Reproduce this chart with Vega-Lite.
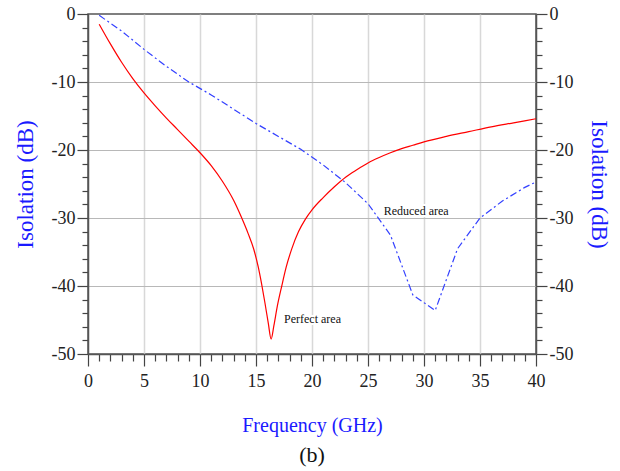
{
  "$schema": "https://vega.github.io/schema/vega-lite/v6.json",
  "width": 448,
  "height": 340,
  "autosize": "none",
  "padding": {"left": 88, "top": 14, "right": 84, "bottom": 117},
  "background": "white",
  "config": {
    "font": "Liberation Serif",
    "view": {"stroke": "#555555", "strokeWidth": 1.5},
    "axis": {
      "labelFont": "Liberation Serif",
      "labelFontSize": 18,
      "labelColor": "#222222",
      "titleFont": "Liberation Serif",
      "titleFontWeight": "normal",
      "titleColor": "#1a1aff",
      "domainColor": "#555555",
      "domainWidth": 1.5,
      "tickColor": "#444444",
      "tickWidth": 1.2
    }
  },
  "title": {
    "text": "(b)",
    "orient": "bottom",
    "font": "Liberation Serif",
    "fontSize": 22,
    "fontWeight": "normal",
    "color": "#111111",
    "offset": 10
  },
  "datasets": {
    "red": [
      {"f": 1, "v": -1.5}, {"f": 2, "v": -4.4}, {"f": 3, "v": -7.1}, {"f": 4, "v": -9.5},
      {"f": 5, "v": -11.6}, {"f": 6, "v": -13.5}, {"f": 7, "v": -15.3}, {"f": 8, "v": -17.0},
      {"f": 9, "v": -18.7}, {"f": 10, "v": -20.4}, {"f": 11, "v": -22.3}, {"f": 12, "v": -24.6},
      {"f": 13, "v": -27.4}, {"f": 13.7, "v": -29.9}, {"f": 14.3, "v": -32.3}, {"f": 14.8, "v": -34.6},
      {"f": 15.2, "v": -37.2}, {"f": 15.5, "v": -39.7}, {"f": 15.8, "v": -42.5}, {"f": 16.1, "v": -45.5},
      {"f": 16.35, "v": -47.8}, {"f": 16.6, "v": -45.8}, {"f": 16.9, "v": -43.0}, {"f": 17.3, "v": -40.0},
      {"f": 17.7, "v": -37.2}, {"f": 18.2, "v": -34.5}, {"f": 18.8, "v": -32.0}, {"f": 19.4, "v": -30.2},
      {"f": 20, "v": -28.8}, {"f": 21, "v": -27.0}, {"f": 22, "v": -25.4}, {"f": 23, "v": -24.0},
      {"f": 24, "v": -22.9}, {"f": 25, "v": -21.9}, {"f": 26, "v": -21.1}, {"f": 27, "v": -20.4},
      {"f": 28, "v": -19.8}, {"f": 29, "v": -19.3}, {"f": 30, "v": -18.8}, {"f": 32, "v": -18.0},
      {"f": 34, "v": -17.3}, {"f": 36, "v": -16.6}, {"f": 38, "v": -16.0}, {"f": 40, "v": -15.4}
    ],
    "blue": [
      {"f": 1, "v": -0.2}, {"f": 3, "v": -2.5}, {"f": 5, "v": -5.2}, {"f": 7, "v": -7.7},
      {"f": 9, "v": -10.0}, {"f": 11, "v": -11.9}, {"f": 13, "v": -14.0}, {"f": 15, "v": -16.1},
      {"f": 17, "v": -18.0}, {"f": 19, "v": -19.9}, {"f": 21, "v": -22.2}, {"f": 23, "v": -24.8},
      {"f": 25, "v": -27.9}, {"f": 27, "v": -32.5}, {"f": 29, "v": -41.3}, {"f": 31, "v": -43.6},
      {"f": 33, "v": -34.5}, {"f": 35, "v": -30.0}, {"f": 37, "v": -27.5}, {"f": 39, "v": -25.5},
      {"f": 40, "v": -24.7}
    ],
    "labels": [
      {"f": 17.5, "v": -44.9, "t": "Perfect area"},
      {"f": 26.4, "v": -29.0, "t": "Reduced area"}
    ]
  },
  "encoding": {
    "x": {
      "field": "f", "type": "quantitative",
      "scale": {"domain": [0, 40], "nice": false},
      "axis": {
        "orient": "bottom",
        "values": [0,1,2,3,4,5,6,7,8,9,10,11,12,13,14,15,16,17,18,19,20,21,22,23,24,25,26,27,28,29,30,31,32,33,34,35,36,37,38,39,40],
        "labelExpr": "datum.value % 5 === 0 ? '' + datum.value : ''",
        "tickSize": {"condition": {"test": "datum.value % 5 === 0", "value": 12}, "value": 7},
        "grid": true,
        "gridColor": "#d8d8d8",
        "gridWidth": 1.5,
        "gridOpacity": {"condition": {"test": "datum.value % 5 === 0 && datum.value > 0 && datum.value < 40", "value": 1}, "value": 0},
        "labelPadding": 6,
        "labelFlush": false,
        "title": "Frequency (GHz)",
        "titleFontSize": 20,
        "titlePadding": 25
      }
    }
  },
  "layer": [
    {
      "data": {"name": "red"},
      "mark": {"type": "line", "color": "#ff0000", "strokeWidth": 1.2, "interpolate": "monotone"},
      "encoding": {
        "y": {
          "field": "v", "type": "quantitative",
          "scale": {"domain": [-50, 0], "nice": false},
          "axis": {
            "orient": "left",
            "values": [-50,-48,-46,-44,-42,-40,-38,-36,-34,-32,-30,-28,-26,-24,-22,-20,-18,-16,-14,-12,-10,-8,-6,-4,-2,0],
            "labelExpr": "datum.value % 10 === 0 ? '' + datum.value : ''",
            "tickSize": {"condition": {"test": "datum.value % 10 === 0", "value": 11}, "value": 6},
            "grid": true,
            "gridColor": "#b8b8b8",
            "gridWidth": 1,
            "gridOpacity": {"condition": {"test": "datum.value % 10 === 0 && datum.value > -50 && datum.value < 0", "value": 1}, "value": 0},
            "labelPadding": 2,
            "labelFlush": false,
            "title": "Isolation (dB)",
            "titleFontSize": 23,
            "titlePadding": 14
          }
        }
      }
    },
    {
      "data": {"name": "blue"},
      "mark": {"type": "line", "color": "#3340ff", "strokeWidth": 1.2, "strokeDash": [7, 3, 2, 3]},
      "encoding": {
        "y": {
          "field": "v", "type": "quantitative",
          "scale": {"domain": [-50, 0], "nice": false},
          "axis": {
            "orient": "right",
            "values": [-50,-48,-46,-44,-42,-40,-38,-36,-34,-32,-30,-28,-26,-24,-22,-20,-18,-16,-14,-12,-10,-8,-6,-4,-2,0],
            "labelExpr": "datum.value % 10 === 0 ? '' + datum.value : ''",
            "tickSize": {"condition": {"test": "datum.value % 10 === 0", "value": 11}, "value": 6},
            "grid": false,
            "labelPadding": 2,
            "labelFlush": false,
            "title": "Isolation (dB)",
            "titleFontSize": 23,
            "titlePadding": 14
          }
        }
      }
    },
    {
      "data": {"name": "labels"},
      "mark": {"type": "text", "align": "left", "baseline": "middle", "font": "Liberation Serif", "fontSize": 12, "color": "white", "stroke": "white", "strokeWidth": 4},
      "encoding": {
        "y": {"field": "v", "type": "quantitative", "scale": {"domain": [-50, 0], "nice": false}, "axis": null},
        "text": {"field": "t"}
      }
    },
    {
      "data": {"name": "labels"},
      "mark": {"type": "text", "align": "left", "baseline": "middle", "font": "Liberation Serif", "fontSize": 12, "color": "#111111"},
      "encoding": {
        "y": {"field": "v", "type": "quantitative", "scale": {"domain": [-50, 0], "nice": false}, "axis": null},
        "text": {"field": "t"}
      }
    }
  ],
  "resolve": {"axis": {"y": "independent"}}
}
